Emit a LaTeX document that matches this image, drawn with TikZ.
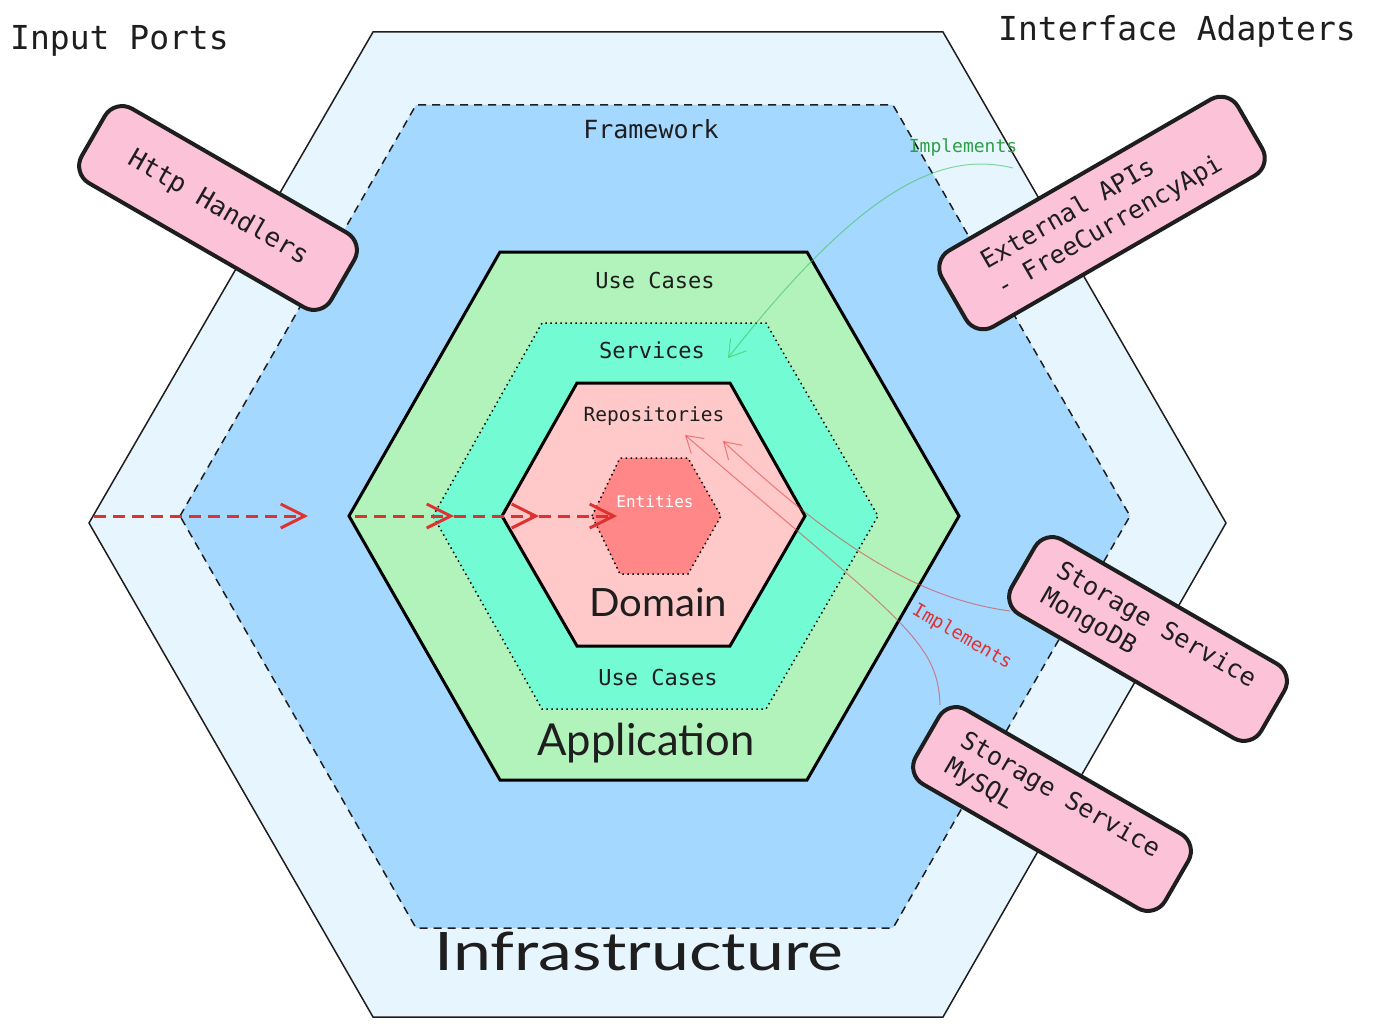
\documentclass[tikz,border=0pt]{standalone}
\usepackage{fontspec}
\usepackage{graphicx}
\setmainfont{DejaVu Sans Mono}
\newfontfamily\handfont{Lato}
\usetikzlibrary{arrows.meta}
\definecolor{outerfill}{HTML}{E7F5FF}
\definecolor{fwfill}{HTML}{A5D8FF}
\definecolor{appfill}{HTML}{B2F2BB}
\definecolor{svcfill}{HTML}{73FBD3}
\definecolor{domfill}{HTML}{FFC9C9}
\definecolor{entfill}{HTML}{FF8787}
\definecolor{pinkfill}{HTML}{FCC2D7}
\definecolor{ink}{HTML}{1E1E1E}
\definecolor{redink}{HTML}{E03131}
\definecolor{greenink}{HTML}{2F9E44}
\definecolor{greenline}{HTML}{40C057}
\begin{document}
\begin{tikzpicture}[x=1pt,y=-1pt,
  hexthin/.style={draw=ink, line width=1.5pt, line join=miter},
  hexdash/.style={draw=ink, line width=1.5pt, dash pattern=on 8pt off 6pt},
  hexthick/.style={draw=black, line width=3pt, line join=miter},
  hexdot/.style={draw=black, line width=1.5pt, dash pattern=on 1.5pt off 3.5pt},
  pinkbox/.style={draw=ink, line width=4pt, fill=pinkfill, rounded corners=20pt,
    minimum width=288pt, minimum height=86pt, text=ink, inner sep=0pt,
    font=\fontsize{25}{31}\selectfont},
  lbl/.style={text=ink, inner sep=0pt},
  flowarrow/.style={draw=redink, line width=3pt, dash pattern=on 12pt off 7pt,
    -{Straight Barb[length=24pt,width=24pt,line width=3pt]}},
  implarrow/.style={line width=1pt, -{Straight Barb[length=16pt,width=20pt,line width=1pt]}},
]
\useasboundingbox (0,0) rectangle (1388,1027);

% hexagons
\path[hexthin, fill=outerfill] (89,523) -- (373,32) -- (943,32) -- (1226,523) -- (943,1017) -- (373,1017) -- cycle;
\path[hexdash, fill=fwfill] (180,516) -- (416,105) -- (893,105) -- (1130,516) -- (893,928) -- (416,928) -- cycle;
\path[hexthick, fill=appfill] (349,516) -- (500,252) -- (807,252) -- (959,516) -- (807,780) -- (500,780) -- cycle;
\path[hexdot, fill=svcfill] (433,516) -- (542,323) -- (766,323) -- (878,516) -- (766,709) -- (542,709) -- cycle;
\path[hexthick, fill=domfill] (502,516) -- (577,383) -- (730,383) -- (805,516) -- (730,646) -- (577,646) -- cycle;
\path[hexdot, fill=entfill] (592,516) -- (620,458) -- (688,458) -- (721,516) -- (688,574) -- (620,574) -- cycle;

% flow arrow coordinates
\coordinate (f0) at (94,516);
\coordinate (f1) at (308,516);
\coordinate (f2) at (355,516);
\coordinate (f3) at (454,516);
\coordinate (f4) at (539,516);
\coordinate (f5) at (617,516);
\draw[flowarrow] (f0) -- (f1);
\draw[flowarrow] (f2) -- (f3);
\draw[flowarrow] (f3) -- (f4);
\draw[flowarrow] (f4) -- (f5);

% layer labels
\node[lbl, anchor=base] (lfw) at (651,139) {\fontsize{25}{30}\selectfont Framework};
\node[lbl, anchor=base] (luc1) at (655,288) {\fontsize{22}{26}\selectfont Use Cases};
\node[lbl, anchor=base] (lsvc) at (652,358) {\fontsize{22}{26}\selectfont Services};
\node[lbl, anchor=base] (lrepo) at (654,421) {\fontsize{19.5}{24}\selectfont Repositories};
\node[lbl, anchor=base, text=white] (lent) at (655,507) {\fontsize{16}{20}\selectfont Entities};
\node[lbl, anchor=base] (luc2) at (658,685) {\fontsize{22}{26}\selectfont Use Cases};
\node[lbl, anchor=base] (ldom) at (658,616) {\resizebox{138pt}{\height}{\handfont\fontsize{39}{44}\selectfont Domain}};
\node[lbl, anchor=base] (lapp) at (646,755) {\resizebox{217pt}{\height}{\handfont\fontsize{44}{50}\selectfont Application}};
\node[lbl, anchor=base] (linf) at (639,970) {\resizebox{408pt}{\height}{\handfont\fontsize{53}{60}\selectfont Infrastructure}};
\node[lbl, anchor=base west] (lin) at (10,50) {\fontsize{33}{38}\selectfont Input Ports};
\node[lbl, anchor=base west] (lia) at (998,41) {\fontsize{33}{38}\selectfont Interface Adapters};

% implements connectors
\coordinate (gStart) at (1013,168);
\coordinate (gEnd) at (728,358);
\coordinate (mStart) at (1010,611);
\coordinate (mEnd) at (723,441);
\coordinate (sStart) at (940,705);
\coordinate (sEnd) at (685,435);
\draw[implarrow, draw=greenline, draw opacity=0.6] (gStart) .. controls (940,150) and (860,190) .. (gEnd);
\draw[implarrow, draw=redink, draw opacity=0.55] (mStart) .. controls (930,600) and (850,560) .. (mEnd);
\draw[implarrow, draw=redink, draw opacity=0.55] (sStart) .. controls (938,640) and (900,620) .. (sEnd);

% pink adapter boxes
\node[pinkbox, rotate=-30, font=\fontsize{26}{31}\selectfont] (http) at (218,208) {Http Handlers};
\node[pinkbox, rotate=30, minimum width=342pt, minimum height=88pt, align=left] (ext) at (1102,213) {External APIs\\- FreeCurrencyApi};
\node[pinkbox, rotate=-30, align=left] (mongo) at (1148,639) {Storage Service\\MongoDB};
\node[pinkbox, rotate=-30, align=left] (mysql) at (1052,809) {Storage Service\\MySQL};

% implements labels
\node[lbl, text=greenink] (gimpl) at (963,147) {\fontsize{18}{22}\selectfont Implements};
\node[lbl, text=redink, rotate=-30] (rimpl) at (962,637) {\fontsize{18.5}{22}\selectfont Implements};
\end{tikzpicture}
\end{document}
